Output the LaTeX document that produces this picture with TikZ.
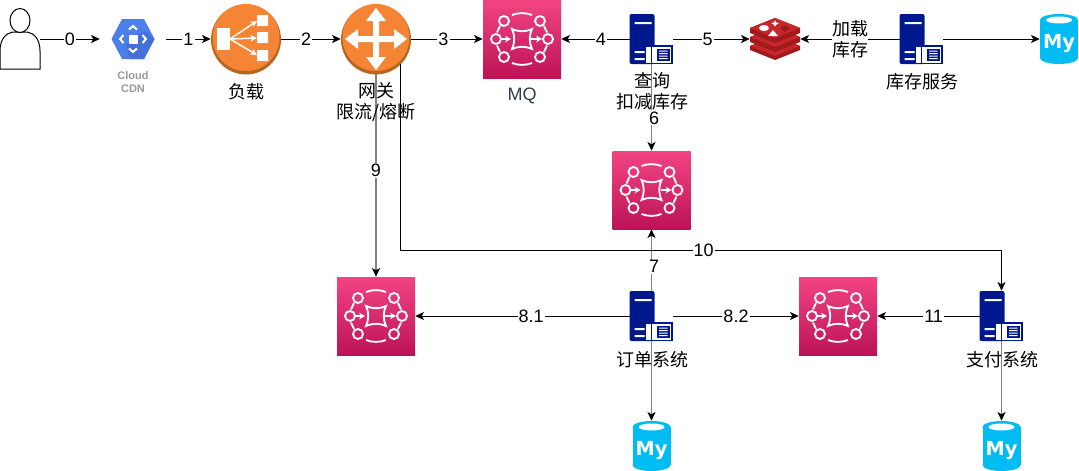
\documentclass[tikz,border=0pt]{standalone}
\usepackage{fontspec}
\usepackage{xcolor}
\usepackage{tikz}
\usetikzlibrary{arrows.meta}
\setmainfont{Liberation Sans}
\newfontfamily\cjk{Noto Sans CJK SC}
\newfontfamily\sqlfont{DejaVu Sans}
\definecolor{orangec}{HTML}{F58534}
\definecolor{oranged}{HTML}{B8651F}
\definecolor{navyc}{HTML}{00188D}
\definecolor{mqtop}{HTML}{F34482}
\definecolor{mqbot}{HTML}{BC1356}
\definecolor{cdnc}{HTML}{4B80EA}
\definecolor{cdnd}{HTML}{4470D8}
\definecolor{redisc}{HTML}{C6262B}
\definecolor{redisd}{HTML}{A01A1C}
\definecolor{sqlc}{HTML}{00BCF2}
\definecolor{mqtext}{HTML}{333D49}
\tikzset{
  link/.style={line width=0.75pt, black, -{Stealth[length=6.5pt,width=6pt,inset=1.6pt]}},
  vlink/.style={link, line width=1.1pt, draw=black!50, -{Stealth[length=6.5pt,width=6pt,inset=1.6pt,black]}},
  elabel/.style={fill=white, inner sep=0.8pt, font=\fontsize{13.5}{15.75}\selectfont},
  cjklabel/.style={inner sep=0pt, align=center, font=\cjk\fontsize{13.5}{15.75}\selectfont},
  iconbox/.style={inner sep=0pt, minimum width=#1*0.75pt},
  serverbox/.style={iconbox=43, minimum height=37.5pt},
  mqbox/.style={iconbox=78, minimum height=58.5pt, top color=mqtop, bottom color=mqbot},
  sqlbox/.style={iconbox=38, minimum height=37.5pt},
  hubbox/.style={circle, inner sep=0pt, minimum size=52.5pt},
  personico/.pic={
    \draw[line width=0.75pt, fill=white] (-20,30) -- (-20,12) .. controls (-20,0) and (-14,-6) .. (-7,-7)
      -- (7,-7) .. controls (14,-6) and (20,0) .. (20,12) -- (20,30) -- cycle;
    \draw[line width=0.75pt, fill=white] (0,-18.5) ellipse[x radius=10, y radius=12];
  },
  cdnico/.pic={
    \fill[cdnc] (-21.5,0) -- (-11,-20) -- (11,-20) -- (21.5,0) -- (11,20) -- (-11,20) -- cycle;
    \fill[cdnd] (5,-5) -- (13,-7) -- (21.5,0) -- (11,20) -- (-3,20) -- (-7,6) -- cycle;
    \fill[white] (-4.5,-4.5) rectangle (4.5,4.5);
    \draw[white, line width=1.5pt] (-4,-9.5) -- (0,-13) -- (4,-9.5) (-4,9.5) -- (0,13) -- (4,9.5)
      (-9.5,-4) -- (-13,0) -- (-9.5,4) (9.5,-4) -- (13,0) -- (9.5,4);
  },
  lbico/.pic={
    \fill[oranged] (0,0.5) circle[radius=35];
    \fill[orangec] (0,-1.5) circle[radius=33.5];
    \fill[white] (-29,-11) rectangle (-16,11);
    \fill[white] (11,-24) rectangle (22,-13) (11,-7) rectangle (22,4) (11,11) rectangle (22,22);
    \draw[white, line width=1.1pt, -{Stealth[length=5pt,width=5pt]}] (-16,0) -- (11,-18);
    \draw[white, line width=1.1pt, -{Stealth[length=5pt,width=5pt]}] (-16,0) -- (11,-1);
    \draw[white, line width=1.1pt, -{Stealth[length=5pt,width=5pt]}] (-16,0) -- (11,16);
  },
  gwico/.pic={
    \fill[oranged] (0,0.5) circle[radius=35];
    \fill[orangec] (0,-1.5) circle[radius=33.5];
    \fill[white] (-31,0) -- (-18,-10) -- (-18,-3) -- (-3,-3) -- (-3,-18) -- (-10,-18) -- (0,-31)
      -- (10,-18) -- (3,-18) -- (3,-3) -- (18,-3) -- (18,-10) -- (31,0) -- (18,10) -- (18,3)
      -- (3,3) -- (3,18) -- (10,18) -- (0,31) -- (-10,18) -- (-3,18) -- (-3,3) -- (-18,3) -- (-18,10) -- cycle;
  },
  mqico/.pic={
    \draw[white, line width=1.4pt] (-10,-10) .. controls (-3,-7) and (3,-7) .. (10,-10)
      .. controls (7,-3) and (7,3) .. (10,10) .. controls (3,7) and (-3,7) .. (-10,10)
      .. controls (-7,3) and (-7,-3) .. (-10,-10) -- cycle;
    \foreach \cx/\cy in {-18/-18, 18/-18, -26/0, 26/0, -18/18, 18/18}
      \draw[white, line width=1.4pt] (\cx,\cy) circle[radius=5];
    \draw[white, line width=1.4pt] (-10,-24) .. controls (-4,-26.5) and (4,-26.5) .. (10,-24)
      (-10,24) .. controls (-4,26.5) and (4,26.5) .. (10,24)
      (-22,-13) -- (-25,-6.5) (22,-13) -- (25,-6.5) (-22,13) -- (-25,6.5) (22,13) -- (25,6.5);
    \draw[white, line width=1.4pt, -{Stealth[length=4.5pt,width=5pt]}] (-21,0) -- (-11,0);
    \draw[white, line width=1.4pt, -{Stealth[length=4.5pt,width=5pt]}] (9,0) -- (20,0);
  },
  serverico/.pic={
    \fill[navyc, rounded corners=1.5pt] (-22,25) -- (-22,-25) -- (3,-25) -- (3,25) -- cycle;
    \fill[white] (-17,-17) rectangle (0,-15) (-17,12) rectangle (-7,14) (-17,19) rectangle (-7,21);
    \fill[navyc] (-7,6) rectangle (21,25);
    \fill[white] (-5.5,8) rectangle (19.5,23.5);
    \fill[navyc] (-1,8) rectangle (0.5,23.5);
    \fill[navyc] (5,9.5) rectangle (18,22);
    \fill[white] (7.5,11.5) rectangle (16,12.5) (7.5,14) rectangle (16,15) (7.5,16.5) rectangle (16,17.5) (7.5,19) rectangle (16,20);
  },
  redisico/.pic={
    \fill[redisd] (-25,7) -- (0,-3) -- (25,7) -- (25,11) -- (0,21) -- (-25,11) -- cycle;
    \fill[redisc] (-25,7) -- (0,-3) -- (25,7) -- (0,17) -- cycle;
    \fill[redisd] (-25,-2) -- (0,-12) -- (25,-2) -- (25,3) -- (0,13) -- (-25,3) -- cycle;
    \fill[redisc] (-25,-2) -- (0,-12) -- (25,-2) -- (0,8) -- cycle;
    \fill[redisd] (-25,-11) -- (0,-21) -- (25,-11) -- (25,-6) -- (0,4) -- (-25,-6) -- cycle;
    \fill[redisc] (-25,-11) -- (0,-21) -- (25,-11) -- (0,-1) -- cycle;
    \fill[white] (-11,-11) ellipse[x radius=5, y radius=3];
    \fill[white] (-4,-16) -- (-1,-16.5) -- (0,-19) -- (1,-16.5) -- (4,-16) -- (1.5,-14.5) -- (0,-12.5) -- (-1.5,-14.5) -- cycle;
    \fill[white] (-7,-3) -- (3,-3) -- (-2,-9) -- cycle;
    \fill[redisd] (10,-14) -- (15,-10.5) -- (10,-7) -- (5,-10.5) -- cycle;
  },
  sqlico/.pic={
    \fill[sqlc] (-19,-19) rectangle (19,19);
    \fill[sqlc] (0,-19) ellipse[x radius=19, y radius=6];
    \fill[sqlc] (0,19) ellipse[x radius=19, y radius=6];
    \fill[white] (0,-19) ellipse[x radius=13, y radius=3.5];
    \node[text=white, inner sep=0pt, font=\sqlfont\bfseries\fontsize{14.5}{14.5}\selectfont] (-my) at (0,5) {My};
  },
}
\begin{document}
\begin{tikzpicture}[x=0.75pt, y=-0.75pt]
  \useasboundingbox (0,0) rectangle (1079,471);

  \node[iconbox=40, minimum height=45pt] (user) at (20,39) {};
  \pic at (user) {personico};
  \node[iconbox=66, minimum height=30pt] (cdn) at (133,39) {};
  \pic at (cdn) {cdnico};
  \node[inner sep=0pt, align=center, text=black!40, font=\bfseries\fontsize{8.25}{9.75}\selectfont] (cdntext) at (133,82) {Cloud\\CDN};
  \node[hubbox] (lb) at (246,39) {};
  \pic at (lb) {lbico};
  \node[cjklabel] (lbtext) at (246,92) {负载};
  \node[hubbox] (gw) at (376,39) {};
  \pic at (gw) {gwico};
  \node[mqbox] (mqa) at (522,39) {};
  \pic at (mqa) {mqico};
  \node[inner sep=0pt, text=mqtext, font=\fontsize{13.5}{15.75}\selectfont] (mqatext) at (522,96) {MQ};
  \node[serverbox] (query) at (651.5,39) {};
  \node[iconbox=50, minimum height=31.5pt] (redis) at (775,39) {};
  \pic at (redis) {redisico};
  \node[serverbox] (stock) at (921.5,39) {};
  \node[sqlbox] (sqlstock) at (1059,39) {};
  \pic (sqlstock) at (sqlstock) {sqlico};
  \node[mqbox] (mqb) at (651.5,190) {};
  \pic at (mqb) {mqico};
  \node[mqbox] (mqc) at (376,316) {};
  \pic at (mqc) {mqico};
  \node[mqbox] (mqd) at (838,316) {};
  \pic at (mqd) {mqico};
  \node[serverbox] (order) at (651.5,316) {};
  \node[serverbox] (pay) at (1001.5,316) {};
  \node[sqlbox] (sqlorder) at (651.5,446) {};
  \pic (sqlorder) at (sqlorder) {sqlico};
  \node[sqlbox] (sqlpay) at (1001.5,446) {};
  \pic (sqlpay) at (sqlpay) {sqlico};
  \coordinate (bendpay) at (pay.north |- 0,250);

  \draw[link] (user.east) -- node[elabel] (e0) {0} (cdn.west);
  \draw[link] (cdn.east) -- node[elabel] (e1) {1} (lb.west);
  \draw[link] (lb.east) -- node[elabel, pos=0.42] (e2) {2} (gw.west);
  \draw[link] (gw.east) -- node[elabel, pos=0.45] (e3) {3} (mqa.west);
  \draw[link] (query.west) -- node[elabel, pos=0.42] (e4) {4} (mqa.east);
  \draw[link] (query.east) -- node[elabel, pos=0.45] (e5) {5} (redis.west);
  \draw[link] (stock.west) -- node[cjklabel, fill=white] (eload) {加载\\库存} (redis.east);
  \draw[link] (stock.east) -- (sqlstock.west);
  \draw[vlink] (query.south) -- node[elabel, pos=0.62, xshift=2pt] (e6) {6} (mqb.north);
  \draw[vlink] (order.north) -- node[elabel, pos=0.39, xshift=2pt] (e7) {7} (mqb.south);
  \draw[vlink] (gw.south) -- node[elabel, pos=0.475] (e9) {9} (mqc.north);
  \draw[link] (gw.south east) |- (bendpay) node[elabel, pos=0.752] (e10) {10} -- (pay.north);
  \draw[link] (order.west) -- node[elabel, pos=0.46] (e81) {8.1} (mqc.east);
  \draw[link] (order.east) -- node[elabel] (e82) {8.2} (mqd.west);
  \draw[link] (pay.west) -- node[elabel, pos=0.45] (e11) {11} (mqd.east);
  \draw[vlink] (order.south) -- (sqlorder.north);
  \draw[vlink] (pay.south) -- (sqlpay.north);

  \pic at (query) {serverico};
  \pic at (stock) {serverico};
  \pic at (order) {serverico};
  \pic at (pay) {serverico};
  \node[cjklabel] (gwtext) at (376,102.5) {网关\\限流/熔断};
  \node[cjklabel] (querytext) at (652,91.5) {查询\\扣减库存};
  \node[cjklabel] (stocktext) at (922,82) {库存服务};
  \node[cjklabel] (ordertext) at (652,360) {订单系统};
  \node[cjklabel] (paytext) at (1002,360) {支付系统};
\end{tikzpicture}
\end{document}
